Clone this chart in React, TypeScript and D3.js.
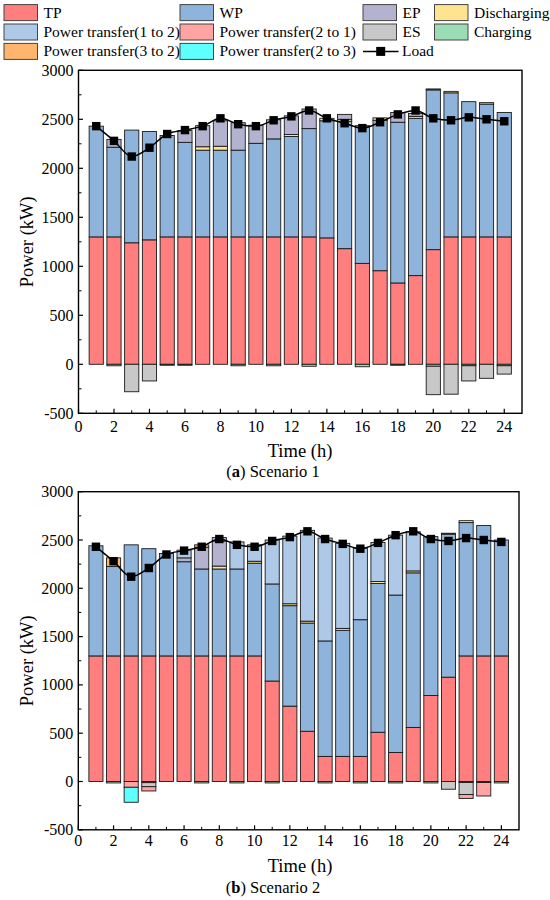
import React from 'react';
import * as d3 from 'd3';

const hours = [1, 2, 3, 4, 5, 6, 7, 8, 9, 10, 11, 12, 13, 14, 15, 16, 17, 18, 19, 20, 21, 22, 23, 24];
const load = [2430, 2280, 2120, 2210, 2350, 2390, 2430, 2510, 2450, 2430, 2490, 2530, 2590, 2510, 2460, 2410, 2470, 2550, 2590, 2510, 2490, 2520, 2500, 2480];

const xTicks = [0, 2, 4, 6, 8, 10, 12, 14, 16, 18, 20, 22, 24];
const yTicks = [-500, 0, 500, 1000, 1500, 2000, 2500, 3000];

// Scenario 1
const s1TP = [1300, 1300, 1240, 1270, 1300, 1300, 1300, 1300, 1300, 1300, 1300, 1300, 1300, 1290, 1180, 1030, 955, 830, 905, 1170, 1300, 1300, 1300, 1300];
const s1WP = [1130, 915, 1150, 1105, 1035, 965, 885, 885, 885, 955, 1000, 1025, 1105, 1195, 1300, 1405, 1535, 1640, 1605, 1630, 1470, 1380, 1355, 1270];
const s1Disch = [0, 0, 0, 0, 0, 0, 35, 40, 0, 0, 0, 20, 0, 25, 20, 0, 25, 0, 20, 10, 15, 0, 15, 0];
const s1EP = [0, 80, 0, 0, 0, 120, 215, 260, 280, 185, 195, 190, 200, 0, 50, 0, 0, 100, 30, 0, 0, 0, 0, 0];
const s1Charging = [0, -15, 0, 0, -10, -10, 0, 0, -15, 0, -15, 0, -20, 0, 0, -25, 0, -10, 0, -20, 0, -15, 0, -15];
const s1ES = [0, 0, -280, -170, 0, 0, 0, 0, 0, 0, 0, 0, 0, 0, 0, 0, 0, 0, 0, -290, -305, -155, -143, -85];

// Scenario 2
const s2TP = [1300, 1300, 1300, 1300, 1300, 1300, 1300, 1300, 1300, 1300, 1040, 780, 520, 260, 260, 260, 510, 300, 560, 890, 1080, 1300, 1300, 1300];
const s2WP = [1140, 925, 1150, 1110, 1060, 975, 900, 900, 900, 960, 1005, 1040, 1120, 1195, 1305, 1415, 1540, 1630, 1600, 1645, 1480, 1380, 1350, 1200];
const s2Disch = [0, 0, 0, 0, 0, 0, 0, 30, 0, 20, 0, 20, 20, 0, 20, 0, 20, 0, 20, 0, 10, 20, 0, 0];
const s2EP = [0, 0, 0, 0, 0, 40, 225, 260, 0, 0, 0, 0, 0, 0, 0, 0, 0, 0, 0, 0, 0, 0, 0, 0];
const s2PT32 = [0, 90, 0, 0, 0, 0, 25, 0, 0, 0, 0, 0, 0, 0, 0, 0, 0, 0, 0, 0, 0, 0, 0, 0];
const s2PT12 = [0, 0, 0, 0, 0, 80, 0, 35, 280, 170, 455, 700, 940, 1065, 880, 740, 405, 620, 405, 0, 0, 0, 0, 0];
const s2Charging = [0, -15, 0, -12, 0, 0, -15, 0, -15, 0, -15, 0, 0, -15, 0, -15, 0, -15, 0, -15, 0, -10, -10, -15];
const s2ES = [0, 0, 0, -42, 0, 0, 0, 0, 0, 0, 0, 0, 0, 0, 0, 0, 0, 0, 0, 0, -80, -125, 0, 0];
const s2PT21 = [0, 0, -60, -44, 0, 0, 0, 0, 0, 0, 0, 0, 0, 0, 0, 0, 0, 0, 0, 0, 0, -40, -140, 0];
const s2PT23 = [0, 0, -155, 0, 0, 0, 0, 0, 0, 0, 0, 0, 0, 0, 0, 0, 0, 0, 0, 0, 0, 0, 0, 0];

const COLORS: Record<string, string> = {
  TP: '#FF7F7F',
  WP: '#8EB4DC',
  EP: '#B3B3D0',
  Disch: '#FFE48F',
  PT12: '#ADC9E7',
  PT21: '#FFA3A3',
  ES: '#C8C8C8',
  Charging: '#9ADDB5',
  PT32: '#FFB56E',
  PT23: '#5FFFFF',
};

const KEYS = ['TP', 'WP', 'Disch', 'EP', 'PT32', 'PT12', 'Charging', 'ES', 'PT21', 'PT23'];

const legendItems: { key: string; label: string; col: number; row: number }[] = [
  { key: 'TP', label: 'TP', col: 0, row: 0 },
  { key: 'WP', label: 'WP', col: 1, row: 0 },
  { key: 'EP', label: 'EP', col: 2, row: 0 },
  { key: 'Disch', label: 'Discharging', col: 3, row: 0 },
  { key: 'PT12', label: 'Power transfer(1 to 2)', col: 0, row: 1 },
  { key: 'PT21', label: 'Power transfer(2 to 1)', col: 1, row: 1 },
  { key: 'ES', label: 'ES', col: 2, row: 1 },
  { key: 'Charging', label: 'Charging', col: 3, row: 1 },
  { key: 'PT32', label: 'Power transfer(3 to 2)', col: 0, row: 2 },
  { key: 'PT23', label: 'Power transfer(2 to 3)', col: 1, row: 2 },
];

const FONT = "'Liberation Serif', 'Times New Roman', Times, 'DejaVu Serif', serif";
const TXT = { fontFamily: FONT } as React.CSSProperties;

type SeriesMap = Record<string, number[]>;

interface PanelProps {
  series: SeriesMap;
  left: number;
  right: number;
  top: number;
  bottom: number;
  labelGap: number;
  titleY: number;
  captionY: number;
  captionLetter: string;
  captionText: string;
}

function Panel(p: PanelProps) {
  const x = d3.scaleLinear().domain([0, 25]).range([p.left, p.right]);
  const y = d3.scaleLinear().domain([-500, 3000]).range([p.bottom, p.top]);
  const rows = hours.map((h, i) => {
    const r: Record<string, number> = { hour: h };
    KEYS.forEach((k) => {
      r[k] = p.series[k] ? p.series[k][i] : 0;
    });
    return r;
  });
  const stacked = d3.stack<Record<string, number>>().keys(KEYS).offset(d3.stackOffsetDiverging)(rows);
  const bw = x(0.8) - x(0);
  const line = d3
    .line<number>()
    .x((_, i) => x(hours[i]))
    .y((d) => y(d))
    .curve(d3.curveMonotoneX);
  const minorY = d3.range(-250, 3000, 500);
  const minorX = d3.range(1, 25, 2);
  return (
    <g>
      {stacked.map((s) =>
        s.map((d, i) => {
          const v = d[1] - d[0];
          if (v === 0) return null;
          const y0 = y(Math.max(d[0], d[1]));
          const y1 = y(Math.min(d[0], d[1]));
          return (
            <rect
              key={s.key + i}
              x={x(hours[i]) - bw / 2}
              y={y0}
              width={bw}
              height={y1 - y0}
              fill={COLORS[s.key]}
              stroke="#1a1a1a"
              strokeWidth={0.9}
            />
          );
        })
      )}
      <path d={line(load) || ''} fill="none" stroke="#000" strokeWidth={1.5} />
      {load.map((v, i) => (
        <rect key={'m' + i} x={x(hours[i]) - 4.2} y={y(v) - 4.2} width={8.4} height={8.4} fill="#000" />
      ))}
      <rect x={p.left} y={p.top} width={p.right - p.left} height={p.bottom - p.top} fill="none" stroke="#000" strokeWidth={1.4} />
      {yTicks.map((t) => (
        <g key={'yt' + t}>
          <line x1={p.left} x2={p.left + 4.5} y1={y(t)} y2={y(t)} stroke="#000" strokeWidth={1.2} />
          <text x={p.left - 5} y={y(t) + 5.5} textAnchor="end" style={TXT} fontSize={16}>
            {t}
          </text>
        </g>
      ))}
      {minorY.map((t) => (
        <line key={'ym' + t} x1={p.left} x2={p.left + 3} y1={y(t)} y2={y(t)} stroke="#000" strokeWidth={1} />
      ))}
      {xTicks.map((t) => (
        <g key={'xt' + t}>
          <line x1={x(t)} x2={x(t)} y1={p.bottom} y2={p.bottom - 4.5} stroke="#000" strokeWidth={1.2} />
          <text x={x(t)} y={p.bottom + p.labelGap} textAnchor="middle" style={TXT} fontSize={16}>
            {t}
          </text>
        </g>
      ))}
      {minorX.map((t) => (
        <line key={'xm' + t} x1={x(t)} x2={x(t)} y1={p.bottom} y2={p.bottom - 3} stroke="#000" strokeWidth={1} />
      ))}
      <text x={300} y={p.titleY} textAnchor="middle" style={TXT} fontSize={18.5}>
        Time (h)
      </text>
      <text
        transform={`translate(${33},${(p.top + p.bottom) / 2}) rotate(-90)`}
        textAnchor="middle"
        style={TXT}
        fontSize={18.5}
      >
        Power (kW)
      </text>
      <text x={273} y={p.captionY} textAnchor="middle" style={TXT} fontSize={16.5}>
        (<tspan fontWeight="bold">{p.captionLetter}</tspan>) {p.captionText}
      </text>
    </g>
  );
}

function Legend() {
  const colX = [4, 180, 363, 434.5];
  const rowY = [4.6, 24, 43.4];
  const sw = 33.5;
  const sh = 16;
  return (
    <g>
      {legendItems.map((it) => (
        <g key={it.key}>
          <rect
            x={colX[it.col]}
            y={rowY[it.row]}
            width={sw}
            height={sh}
            fill={COLORS[it.key]}
            stroke="#444"
            strokeWidth={1}
          />
          <text x={colX[it.col] + sw + 6} y={rowY[it.row] + 13} style={TXT} fontSize={15.5}>
            {it.label}
          </text>
        </g>
      ))}
      <line x1={363} x2={398.5} y1={rowY[2] + 8} y2={rowY[2] + 8} stroke="#000" strokeWidth={1.5} />
      <rect x={380.7 - 4.5} y={rowY[2] + 8 - 4.5} width={9} height={9} fill="#000" />
      <text x={402} y={rowY[2] + 13} style={TXT} fontSize={15.5}>
        Load
      </text>
    </g>
  );
}

export default function App() {
  const series1: SeriesMap = {
    TP: s1TP,
    WP: s1WP,
    Disch: s1Disch,
    EP: s1EP,
    Charging: s1Charging,
    ES: s1ES,
  };
  const series2: SeriesMap = {
    TP: s2TP,
    WP: s2WP,
    Disch: s2Disch,
    EP: s2EP,
    PT32: s2PT32,
    PT12: s2PT12,
    Charging: s2Charging,
    ES: s2ES,
    PT21: s2PT21,
    PT23: s2PT23,
  };
  return (
    <svg
      width={550}
      height={900}
      style={{ position: 'absolute', left: 0, top: 0, background: '#fff', fontFamily: FONT }}
      xmlns="http://www.w3.org/2000/svg"
    >
      <rect x={0} y={0} width={550} height={900} fill="#fff" />
      <Legend />
      <Panel
        series={series1}
        left={78.5}
        right={522}
        top={70.3}
        bottom={413.3}
        labelGap={18.5}
        titleY={456.5}
        captionY={477}
        captionLetter="a"
        captionText="Scenario 1"
      />
      <Panel
        series={series2}
        left={78.3}
        right={519}
        top={491.7}
        bottom={829.8}
        labelGap={16}
        titleY={872}
        captionY={893}
        captionLetter="b"
        captionText="Scenario 2"
      />
    </svg>
  );
}
